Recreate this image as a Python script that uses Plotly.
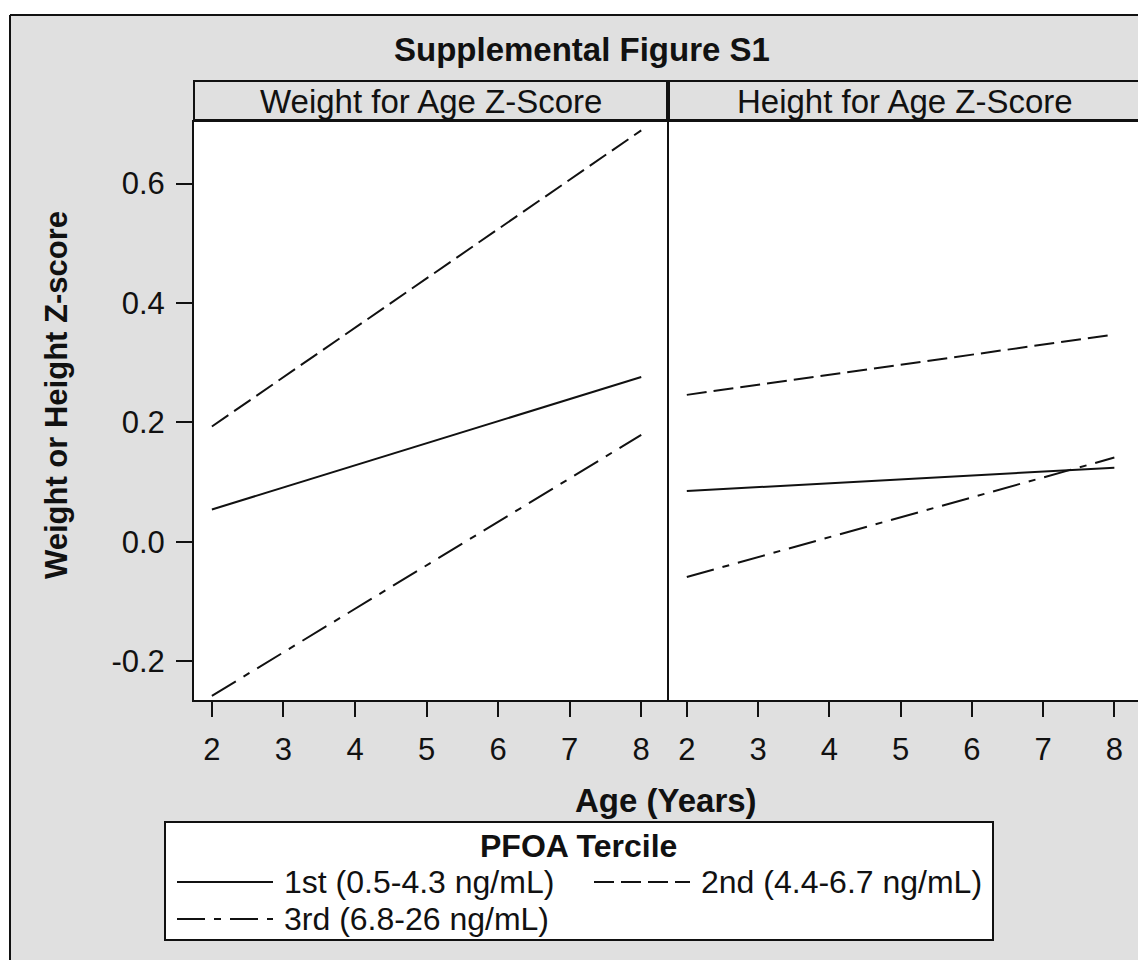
import plotly.graph_objects as go

# ---------------- data ----------------
ages = [2, 8]
panels = ["Weight for Age Z-Score", "Height for Age Z-Score"]
tercile_labels = ["1st (0.5-4.3 ng/mL)", "2nd (4.4-6.7 ng/mL)", "3rd (6.8-26 ng/mL)"]
weight_1st = [0.054, 0.276]
weight_2nd = [0.193, 0.689]
weight_3rd = [-0.258, 0.179]
height_1st = [0.085, 0.124]
height_2nd = [0.246, 0.347]
height_3rd = [-0.059, 0.141]
x_ticks = [2, 3, 4, 5, 6, 7, 8]
y_ticks = [-0.2, 0.0, 0.2, 0.4, 0.6]
y_tick_labels = ["-0.2", "0.0", "0.2", "0.4", "0.6"]

W, H = 1146, 960
OFF = 8  # page body margin
FONT = "Arial, Liberation Sans, sans-serif"
INK = "#111111"
BG = "#e0e0e0"
dashes = ["solid", "20px,7px", "28px,9px,7px,9px"]


def px(x):
    return (x - OFF) / W


def py(y):
    return 1 - (y - OFF) / H


fig = go.Figure()
series = [[weight_1st, weight_2nd, weight_3rd], [height_1st, height_2nd, height_3rd]]
for p, (xa, ya) in enumerate([("x", "y"), ("x2", "y2")]):
    for i, vals in enumerate(series[p]):
        fig.add_trace(go.Scatter(
            x=ages, y=vals, mode="lines", xaxis=xa, yaxis=ya,
            name=tercile_labels[i], showlegend=False,
            line=dict(color=INK, width=2, dash=dashes[i]),
            hoverinfo="skip"))

top, bottom = 122, 700
x1_dom = [px(194), px(667)]
x2_dom = [px(669), px(1140)]
y_dom = [py(bottom), py(top)]

axis_common = dict(
    range=[1.75, 8.36], tickvals=x_ticks, ticks="outside", ticklen=15, tickwidth=2,
    tickcolor=INK, showline=True, linewidth=2, linecolor=INK, mirror=True,
    showgrid=False, zeroline=False, tickfont=dict(family=FONT, size=31, color=INK),
    ticklabelstandoff=6,
)
yaxis_common = dict(
    range=[-0.265, 0.703], showline=True, linewidth=2, linecolor=INK, mirror=True,
    showgrid=False, zeroline=False, domain=y_dom,
)

fig.update_layout(
    width=W, height=H, margin=dict(l=0, r=0, t=0, b=0),
    paper_bgcolor=BG, plot_bgcolor="white", showlegend=False,
    xaxis=dict(domain=x1_dom, anchor="y", **axis_common),
    xaxis2=dict(domain=x2_dom, anchor="y2", **axis_common),
    yaxis=dict(anchor="x", tickvals=y_ticks, ticktext=y_tick_labels, ticks="outside",
               ticklen=16, tickwidth=2, tickcolor=INK,
               tickfont=dict(family=FONT, size=31, color=INK),
               ticklabelstandoff=5, **yaxis_common),
    yaxis2=dict(anchor="x2", matches="y", showticklabels=False, ticks="", **yaxis_common),
)

shapes = []
# white outside of frame
shapes.append(dict(type="rect", xref="paper", yref="paper", x0=-0.05, x1=px(10), y0=-0.05, y1=1.05,
                   fillcolor="white", line=dict(width=0), layer="below"))
shapes.append(dict(type="rect", xref="paper", yref="paper", x0=-0.05, x1=1.05, y0=py(15), y1=1.05,
                   fillcolor="white", line=dict(width=0), layer="below"))
# frame lines
shapes.append(dict(type="line", xref="paper", yref="paper", x0=px(10), x1=px(10), y0=py(15), y1=-0.05,
                   line=dict(color=INK, width=2)))
shapes.append(dict(type="line", xref="paper", yref="paper", x0=px(10), x1=1.05, y0=py(15), y1=py(15),
                   line=dict(color=INK, width=2)))
# header strips
for d in (x1_dom, x2_dom):
    shapes.append(dict(type="rect", xref="paper", yref="paper", x0=d[0], x1=d[1], y0=py(120), y1=py(81),
                       fillcolor=BG, line=dict(color=INK, width=2), layer="above"))
# legend box
LX0, LX1, LY0, LY1 = 165, 993, 822, 940
shapes.append(dict(type="rect", xref="paper", yref="paper", x0=px(LX0), x1=px(LX1), y0=py(LY1), y1=py(LY0),
                   fillcolor="white", line=dict(color=INK, width=2), layer="above"))
legend_pos = [(177, 273, 882), (594, 690, 882), (177, 273, 919)]
for i, (a, b, yy) in enumerate(legend_pos):
    shapes.append(dict(type="line", xref="paper", yref="paper", x0=px(a), x1=px(b), y0=py(yy), y1=py(yy),
                       line=dict(color=INK, width=2, dash=dashes[i]), layer="above"))

annotations = []
annotations.append(dict(text="<b>Supplemental Figure S1</b>", x=px(582), y=py(50), xref="paper", yref="paper",
                        showarrow=False, font=dict(family=FONT, size=33, color=INK), xanchor="center", yanchor="middle"))
for d, t in zip((x1_dom, x2_dom), panels):
    annotations.append(dict(text=t, x=(d[0] + d[1]) / 2, y=py(102), xref="paper", yref="paper",
                            showarrow=False, font=dict(family=FONT, size=33, color=INK),
                            xanchor="center", yanchor="middle"))
annotations.append(dict(text="<b>Age (Years)</b>", x=px(666), y=py(800), xref="paper", yref="paper",
                        showarrow=False, font=dict(family=FONT, size=33, color=INK), xanchor="center", yanchor="middle"))
annotations.append(dict(text="<b>Weight or Height Z-score</b>", x=px(57), y=py(395), xref="paper", yref="paper",
                        showarrow=False, textangle=-90, font=dict(family=FONT, size=31, color=INK),
                        xanchor="center", yanchor="middle"))
annotations.append(dict(text="<b>PFOA Tercile</b>", x=px(578), y=py(846), xref="paper", yref="paper",
                        showarrow=False, font=dict(family=FONT, size=32, color=INK), xanchor="center", yanchor="middle"))
for i, (a, b, yy) in enumerate(legend_pos):
    annotations.append(dict(text=tercile_labels[i], x=px(b + 9), y=py(yy), xref="paper", yref="paper",
                            showarrow=False, font=dict(family=FONT, size=32, color=INK),
                            xanchor="left", yanchor="middle"))

fig.update_layout(shapes=shapes, annotations=annotations)
fig.write_html("out.html")
